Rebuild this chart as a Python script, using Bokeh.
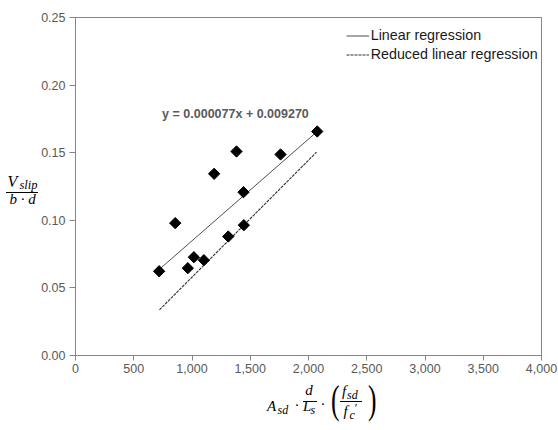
import math
from bokeh.plotting import figure
from bokeh.models import (Range1d, FixedTicker, NumeralTickFormatter, Legend, LegendItem,
                          Label, Div)
from bokeh.layouts import row, column
from bokeh.embed import file_html
from bokeh.resources import INLINE

# ---- data ----
x_vals = [718, 856, 964, 1016, 1102, 1190, 1311, 1382, 1442, 1445, 1760, 2075]
y_vals = [0.0623, 0.0979, 0.0646, 0.0727, 0.0705, 0.1344, 0.0880, 0.1509, 0.1208, 0.0964, 0.1487, 0.1657]

linear_x = [718, 2075]
linear_y = [0.0636, 0.1657]
reduced_x = [721, 2069]
reduced_y = [0.0338, 0.1504]

x_ticks = [0, 500, 1000, 1500, 2000, 2500, 3000, 3500, 4000]
y_ticks = [0.00, 0.05, 0.10, 0.15, 0.20, 0.25]

equation = "y = 0.000077x + 0.009270"
legend_labels = ["Linear regression", "Reduced linear regression"]

AXIS = "#868686"
TICKTXT = "#595959"
SANS = "Liberation Sans"
SERIF = "Liberation Serif"

YDIV_W = 38          # width of the y-title strip on the left
FL, FT, FW, FH = 75, 17, 466, 338
FB = 30              # bottom border of the figure (tick labels)
PLOT_H = FT + FH + FB
XDIV_H = 430 - PLOT_H
XMAX, YMAX = 4000, 0.25

p = figure(frame_width=FW, frame_height=FH, output_backend="svg", toolbar_location=None,
           x_range=Range1d(0, XMAX), y_range=Range1d(0, YMAX),
           min_border_left=FL - YDIV_W, min_border_right=17, min_border_top=FT,
           min_border_bottom=FB, margin=0)
p.background_fill_color = "white"
p.border_fill_color = "white"
p.outline_line_color = AXIS
p.outline_line_width = 1
p.grid.visible = False

p.xaxis.ticker = FixedTicker(ticks=x_ticks)
p.yaxis.ticker = FixedTicker(ticks=y_ticks)
p.xaxis.formatter = NumeralTickFormatter(format="0,0")
p.yaxis.formatter = NumeralTickFormatter(format="0.00")
for ax in (p.xaxis, p.yaxis):
    ax.axis_line_color = AXIS
    ax.major_tick_line_color = AXIS
    ax.minor_tick_line_color = None
    ax.major_tick_in = 0
    ax.major_label_text_font = SANS
    ax.major_label_text_font_size = "12.5px"
    ax.major_label_text_color = TICKTXT
p.xaxis.major_tick_out = 5
p.yaxis.major_tick_out = 6
p.xaxis.major_label_standoff = 3
p.yaxis.major_label_standoff = 4

r_lin = p.line(linear_x, linear_y, line_color="#505050", line_width=1)
r_red = p.line(reduced_x, reduced_y, line_color="#303030", line_width=1.1, line_dash="3 1")
p.scatter(x_vals, y_vals, marker="square", angle=math.pi / 4, size=8, color="black")

legend = Legend(items=[LegendItem(label=legend_labels[0], renderers=[r_lin]),
                       LegendItem(label=legend_labels[1], renderers=[r_red])],
                location=(266.7, 287.5), padding=4, spacing=0, glyph_width=23, glyph_height=19,
                label_height=19, label_standoff=2, border_line_alpha=0, background_fill_alpha=0,
                label_text_font=SANS, label_text_font_size="14.3px", label_text_color="#1a1a1a")
p.add_layout(legend, "center")

p.add_layout(Label(x=1373, y=0.1785, text=equation, text_align="center", text_baseline="middle",
                   text_font=SANS, text_font_style="bold", text_font_size="12.5px",
                   text_color=TICKTXT))


# ---- math axis titles as HTML text ----
def piece(x, baseline, s, size, italic=True, center=False, scale_x=None):
    top = baseline - 0.8375 * size
    style = (f"position:absolute;left:{x}px;top:{top:.1f}px;font-size:{size}px;line-height:1;"
             f"font-family:'{SERIF}';font-style:{'italic' if italic else 'normal'};"
             "color:black;white-space:nowrap;")
    if center:
        style += "transform:translateX(-50%);"
    if scale_x is not None:
        style += f"transform:scaleX({scale_x});transform-origin:0 0;"
    return f'<span style="{style}">{s}</span>'


def rule(x0, x1, y):
    return (f'<span style="position:absolute;left:{x0}px;top:{y - 0.5}px;width:{x1 - x0}px;'
            'height:1px;background:black;"></span>')


def box(w, h, parts):
    return (f'<div style="position:relative;width:{w}px;height:{h}px;overflow:visible;">'
            + "".join(parts) + "</div>")


# y title: V_slip / (b · d)   (page pixels)
y_parts = [
    piece(7.5, 187.5, "V", 16),
    piece(19.5, 189, "slip", 12.5),
    rule(6, 38, 192),
    piece(22.5, 204.5, "b · d", 15, center=True),
]

# x title: A_sd · (d / L_s) · (f_sd / f_c')  (page pixels, shifted by PLOT_H)
o = PLOT_H
prime = '<span style="position:relative;top:-7px;font-style:normal;">′</span>'
x_parts = [
    piece(267, 411.5 - o, "A", 15),
    piece(277.5, 414 - o, "sd", 12),
    piece(297, 410.5 - o, "·", 15, italic=False, center=True),
    piece(309, 395.5 - o, "d", 15, center=True),
    rule(302.5, 316.5, 401 - o),
    piece(303, 412 - o, "L", 15),
    piece(310.5, 414.5 - o, "s", 12),
    piece(323, 410 - o, "·", 15, italic=False, center=True),
    piece(330.5, 413 - o, "(", 41, italic=False, scale_x=0.62),
    piece(342, 396.5 - o, "f", 15),
    piece(347, 399 - o, "sd", 12),
    rule(340, 361.5, 401 - o),
    piece(343.5, 416.5 - o, "f", 15),
    piece(349.5, 419 - o, "c" + prime, 12),
    piece(367.5, 413 - o, ")", 41, italic=False, scale_x=0.62),
]

ydiv = Div(text=box(YDIV_W, PLOT_H, y_parts), width=YDIV_W, height=PLOT_H, margin=0)
xdiv = Div(text=box(558, XDIV_H, x_parts), width=558, height=XDIV_H, margin=0)

layout = column(row(ydiv, p, spacing=0, margin=0), xdiv, spacing=0, margin=0)

open("out.html", "w").write(file_html(layout, INLINE))
